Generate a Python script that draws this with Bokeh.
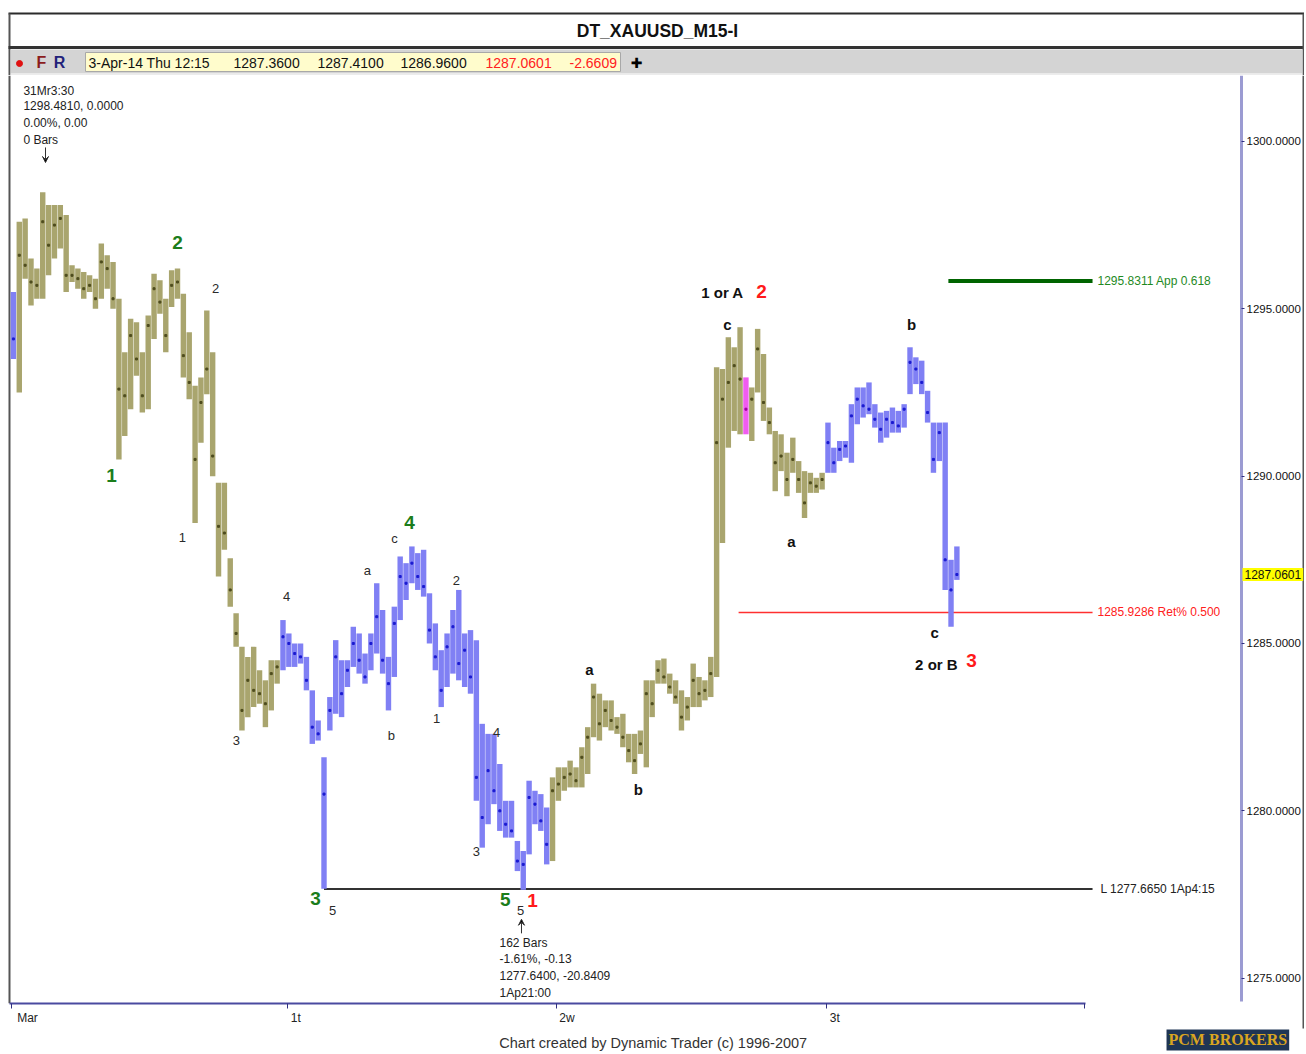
from bokeh.plotting import figure
from bokeh.models import Range1d, FixedTicker, PrintfTickFormatter, Label, Arrow, VeeHead, ColumnDataSource
from bokeh.layouts import column
from bokeh.core.properties import value
from bokeh.embed import file_html
from bokeh.resources import INLINE

FONT = "Liberation Sans"

# ---------------- data (30-minute samples of the M15 chart) ----------------
bar_high = [1295.5, 1297.6, 1297.7, 1296.5, 1296.2, 1298.48, 1298.1, 1298.1, 1298.1, 1297.8,
            1296.3, 1296.2, 1296.1, 1296.0, 1295.9, 1296.95, 1296.6, 1296.4, 1295.3, 1293.7,
            1294.7, 1294.6, 1293.7, 1294.8, 1296.05, 1295.85, 1295.3, 1296.15, 1296.2, 1295.45,
            1294.3, 1292.7, 1292.95, 1294.95, 1293.7, 1289.8, 1289.8, 1287.55, 1285.9, 1284.9,
            1284.6, 1284.9, 1284.2, 1283.9, 1284.5, 1284.5, 1285.7, 1285.3, 1285.0, 1285.0,
            1284.6, 1283.6, 1282.7, 1281.6, 1283.4, 1285.1, 1284.5, 1284.5, 1285.5, 1285.3,
            1284.7, 1285.3, 1286.8, 1286.0, 1284.6, 1286.1, 1287.6, 1287.4, 1287.9, 1287.7,
            1287.8, 1286.5, 1285.6, 1284.8, 1285.3, 1286.0, 1286.6, 1285.3, 1285.4, 1285.1,
            1282.6, 1282.3, 1282.3, 1281.4, 1280.3, 1280.3, 1279.1, 1278.8, 1280.9, 1280.6,
            1280.5, 1280.1, 1281.0, 1281.3, 1281.3, 1281.5, 1281.3, 1281.9, 1282.5, 1283.8,
            1283.5, 1283.3, 1283.3, 1282.8, 1282.9, 1282.3, 1282.3, 1282.4, 1283.9, 1283.9,
            1284.5, 1284.55, 1284.1, 1283.9, 1283.6, 1283.4, 1284.4, 1284.0, 1283.9, 1284.6,
            1293.25, 1293.2, 1294.15, 1293.85, 1294.45, 1292.95, 1292.65, 1294.4, 1293.65, 1292.05,
            1291.35, 1291.25, 1290.7, 1291.15, 1290.45, 1290.15, 1290.1, 1289.95, 1290.1, 1291.6,
            1290.85, 1291.05, 1291.05, 1292.15, 1292.65, 1292.65, 1292.8, 1292.15, 1291.9, 1291.95,
            1292.05, 1291.95, 1292.15, 1293.85, 1293.55, 1293.45, 1292.55, 1291.6, 1291.6, 1291.6,
            1287.5, 1287.9]
bar_low = [1293.5, 1292.5, 1295.9, 1295.1, 1295.3, 1295.3, 1296.0, 1296.5, 1296.8, 1295.5,
           1295.8, 1295.6, 1295.3, 1295.5, 1295.0, 1295.3, 1295.6, 1295.0, 1290.5, 1291.2,
           1292.0, 1293.0, 1291.9, 1292.0, 1294.1, 1294.85, 1293.7, 1295.05, 1295.3, 1292.95,
           1292.3, 1288.6, 1291.0, 1292.45, 1290.0, 1287.0, 1287.8, 1286.1, 1284.9, 1282.4,
           1282.8, 1283.1, 1283.2, 1282.5, 1283.0, 1283.8, 1284.2, 1284.3, 1284.3, 1284.4,
           1283.6, 1282.0, 1282.1, 1277.67, 1282.4, 1282.9, 1282.8, 1283.7, 1284.3, 1284.1,
           1283.8, 1284.2, 1284.7, 1284.1, 1283.0, 1284.0, 1285.7, 1286.3, 1286.8, 1286.6,
           1286.4, 1285.0, 1284.2, 1283.1, 1283.7, 1284.1, 1283.9, 1283.7, 1283.5, 1280.3,
           1278.9, 1279.6, 1280.2, 1279.4, 1279.2, 1279.2, 1278.2, 1277.64, 1278.7, 1279.6,
           1279.4, 1278.4, 1278.5, 1280.3, 1280.6, 1280.7, 1280.7, 1280.7, 1281.1, 1282.2,
           1282.1, 1282.5, 1282.4, 1282.3, 1281.9, 1281.45, 1281.1, 1281.7, 1281.3, 1282.8,
           1283.8, 1283.8, 1283.5, 1283.2, 1282.4, 1282.7, 1283.1, 1283.1, 1283.3, 1283.4,
           1284.0, 1288.0, 1290.85, 1291.35, 1291.25, 1291.25, 1291.05, 1292.5, 1291.65, 1291.25,
           1289.55, 1290.15, 1289.4, 1290.1, 1289.5, 1288.75, 1289.5, 1289.5, 1289.6, 1290.1,
           1290.1, 1290.45, 1290.55, 1290.4, 1291.55, 1291.75, 1291.85, 1291.45, 1291.0, 1291.15,
           1291.3, 1291.3, 1291.45, 1292.45, 1292.75, 1292.45, 1291.6, 1290.1, 1290.45, 1286.6,
           1285.5, 1286.9]
bar_close = [1294.1, 1296.6, 1296.3, 1295.8, 1295.7, 1297.6, 1296.9, 1297.5, 1297.7, 1296.0,
             1296.0, 1295.9, 1295.6, 1295.7, 1295.3, 1296.4, 1296.2, 1295.3, 1292.6, 1292.4,
             1294.2, 1293.5, 1292.4, 1294.5, 1295.6, 1295.2, 1294.2, 1295.7, 1295.8, 1293.6,
             1292.8, 1290.5, 1292.2, 1293.2, 1290.6, 1288.5, 1288.3, 1286.6, 1285.3, 1283.0,
             1283.9, 1283.6, 1283.5, 1283.2, 1284.1, 1284.3, 1285.2, 1285.0, 1284.7, 1284.6,
             1283.9, 1282.5, 1282.3, 1280.5, 1283.0, 1284.6, 1283.5, 1284.2, 1285.0, 1284.5,
             1284.0, 1285.0, 1285.8, 1284.5, 1283.8, 1285.6, 1287.0, 1286.8, 1287.4, 1287.0,
             1286.7, 1285.4, 1284.6, 1283.6, 1284.9, 1285.5, 1284.4, 1284.8, 1284.0, 1281.0,
             1279.8, 1281.2, 1280.6, 1280.0, 1279.6, 1279.4, 1278.5, 1278.4, 1280.4, 1280.2,
             1279.7, 1279.0, 1280.6, 1280.8, 1281.0, 1281.1, 1280.9, 1281.6, 1282.2, 1283.4,
             1282.6, 1283.0, 1282.7, 1282.5, 1282.2, 1281.8, 1281.5, 1282.0, 1283.5, 1283.2,
             1284.2, 1284.0, 1283.7, 1283.4, 1282.8, 1283.1, 1283.9, 1283.5, 1283.6, 1284.1,
             1291.0, 1292.3, 1292.8, 1293.3, 1292.9, 1292.0, 1292.3, 1293.8, 1292.2, 1291.6,
             1290.4, 1290.6, 1289.9, 1290.5, 1289.9, 1289.2, 1289.8, 1289.7, 1289.9, 1291.0,
             1290.4, 1290.8, 1290.9, 1291.8, 1292.3, 1292.1, 1292.0, 1291.7, 1291.4, 1291.7,
             1291.6, 1291.5, 1292.0, 1293.4, 1293.2, 1292.8, 1291.9, 1290.5, 1291.3, 1287.5,
             1286.6, 1287.06]
# bar colouring state: b = blue, o = olive, m = magenta (run lengths)
trend_runs = [("b", 1), ("o", 45), ("b", 46), ("o", 33), ("m", 1), ("o", 13), ("b", 23)]

# levels
low_level = 1277.665
ret_level = 1285.9286
app_level = 1295.8311
last_price = 1287.0601

# axis ticks
price_ticks = [1275, 1280, 1285, 1290, 1295, 1300]
date_tick_pos = [0, 94, 186, 278, 366]
date_tick_lbl = ["Mar", "1t", "2w", "3t", ""]

# wave labels: (text, bar position, price)
waves_green = [("2", 56.5, 1296.98), ("1", 34.0, 1290.02), ("4", 135.7, 1288.62),
               ("3", 103.6, 1277.38), ("5", 168.4, 1277.35)]
waves_red = [("1", 177.7, 1277.32), ("2", 255.8, 1295.52), ("3", 327.5, 1284.49)]
waves_black = [("1 or A", 242.5, 1295.49), ("c", 244.2, 1294.53), ("a", 266.0, 1288.05),
               ("b", 307.0, 1294.53), ("c", 314.9, 1285.33), ("2 or B", 315.5, 1284.37),
               ("a", 197.1, 1284.22), ("b", 213.8, 1280.64)]
waves_small = [("2", 69.5, 1295.61), ("1", 58.2, 1288.17), ("4", 93.7, 1286.41), ("3", 76.6, 1282.10),
               ("a", 121.3, 1287.18), ("b", 129.5, 1282.25), ("c", 130.6, 1288.14), ("1", 144.9, 1282.76),
               ("2", 151.7, 1286.88), ("4", 165.4, 1282.34), ("3", 158.5, 1278.79), ("5", 109.4, 1277.02),
               ("5", 173.6, 1277.02)]

# ---------------- derived ----------------
n = len(bar_high)
xs = [2 * k + 0.5 for k in range(n)]
trend = []
for c, cnt in trend_runs:
    trend += [c] * cnt
fill_map = {"b": "#8080f4", "o": "#a9a56e", "m": "#f05cf0"}
dot_map = {"b": "#1a1ad0", "o": "#4e4c1e", "m": "#a000a0"}
src = ColumnDataSource(dict(x=xs, hi=bar_high, lo=bar_low, cl=bar_close,
                            fill=[fill_map[t] for t in trend], dot=[dot_map[t] for t in trend]))

W = 1304
HDR_H = 75
MAIN_H = 977
# ---------------- header ----------------
hdr = figure(width=W, height=HDR_H, x_range=Range1d(0, W), y_range=Range1d(HDR_H, 0),
             output_backend="svg", toolbar_location=None, min_border=0,
             x_axis_location=None, y_axis_location=None)
hdr.grid.visible = False
hdr.outline_line_color = None
hdr.segment(x0=[8, 9, 8, 1303], y0=[13, 13, 47, 13], x1=[W, 9, W, 1303], y1=[13, 75, 47, 75],
            line_color=["#2b2b2b", "#555555", "#333333", "#555555"], line_width=[2, 2, 3, 2])
hdr.quad(left=[10, 10], right=[1302, 1302], top=[49, 73], bottom=[73, 75],
         fill_color=["#d4d4d4", "#ececec"], line_color=None)
hdr.text(x=[657], y=[30], text=["DT_XAUUSD_M15-I"], text_font=value(FONT), text_font_size="17.5px",
         text_font_style="bold", text_align="center", text_baseline="middle", text_color="#111111")
hdr.scatter(x=[19], y=[63], size=6, color="#e01010")
hdr.text(x=[41, 59], y=[62, 62], text=["F", "R"], text_font=value(FONT), text_font_size="16px",
         text_font_style="bold", text_align="center", text_baseline="middle",
         text_color=["#8b1c1c", "#22227a"])
hdr.quad(left=[85], right=[620], top=[52], bottom=[71], fill_color="#fffccc", line_color="#a8a8a8")
hdr.text(x=[88, 233, 317, 400, 485, 569], y=[62] * 6,
         text=["3-Apr-14 Thu 12:15", "1287.3600", "1287.4100", "1286.9600", "1287.0601", "-2.6609"],
         text_font=value(FONT), text_font_size="14px", text_align="left", text_baseline="middle",
         text_color=["#111111"] * 4 + ["#ff2020", "#ff2020"])
hdr.text(x=[636], y=[62], text=["\u271a"], text_font=value("DejaVu Sans"), text_font_size="14px",
         text_align="center", text_baseline="middle", text_color="#000000")

# ---------------- main chart ----------------
# the frame fills the whole canvas; the axes are fixed inside it
p = figure(width=W, height=MAIN_H, x_range=Range1d(-3.91, 441.14), y_range=Range1d(1272.78, 1301.97),
           y_axis_location="right", output_backend="svg", toolbar_location=None, min_border=0)
p.grid.visible = False
p.outline_line_color = None
p.background_fill_color = "white"

# borders
p.segment(x0=[-0.84, 440.8], y0=[1274.25, 1273.5], x1=[-0.84, 440.8], y1=[1301.97, 1301.97],
          line_color="#555555", line_width=2)

# level lines
end_x = 368.8
p.segment(x0=[xs[bar_low.index(min(bar_low[:60]))]], y0=[low_level], x1=[end_x], y1=[low_level],
          line_color="#333333", line_width=2)
p.segment(x0=[248], y0=[ret_level], x1=[end_x], y1=[ret_level], line_color="#ff3030", line_width=1.5)
p.segment(x0=[319.6], y0=[app_level], x1=[end_x], y1=[app_level], line_color="#006400", line_width=4)
p.text(x=[371.5, 370.5, 370.5], y=[low_level, ret_level, app_level],
       text=["L %.4f 1Ap4:15" % low_level, "%.4f Ret%% 0.500" % ret_level, "%.4f App 0.618" % app_level],
       text_font=value(FONT), text_font_size="12px", text_align="left", text_baseline="middle",
       text_color=["#222222", "#ff2020", "#1f8a1f"])

# price bars
p.vbar(x="x", width=1.85, top="hi", bottom="lo", source=src, fill_color="fill", line_color=None)
p.scatter(x="x", y="cl", source=src, marker="square", size=2, color="dot")

# wave labels
def put(lbls, size, style, color):
    p.text(x=[l[1] for l in lbls], y=[l[2] for l in lbls], text=[l[0] for l in lbls],
           text_font=value(FONT), text_font_size=size, text_font_style=style,
           text_align="center", text_baseline="middle", text_color=color)

put(waves_green, "19px", "bold", "#1b7d1b")
put(waves_red, "19px", "bold", "#ff1a1a")
put(waves_black, "15px", "bold", "#111111")
put(waves_small, "13px", "normal", "#2a2a2a")

# info annotations
p.text(x=[3.9] * 4, y=[1301.52, 1301.05, 1300.54, 1300.03],
       text=["31Mr3:30", "1298.4810, 0.0000", "0.00%, 0.00", "0 Bars"],
       text_font=value(FONT), text_font_size="12px", text_align="left", text_baseline="middle",
       text_color="#222222")
p.text(x=[166.4] * 4, y=[1276.04, 1275.56, 1275.08, 1274.57],
       text=["162 Bars", "-1.61%, -0.13", "1277.6400, -20.8409", "1Ap21:00"],
       text_font=value(FONT), text_font_size="12px", text_align="left", text_baseline="middle",
       text_color="#222222")
p.add_layout(Arrow(end=VeeHead(size=6, line_color="#333333", line_width=1), x_start=11.45, y_start=1299.82,
                   x_end=11.45, y_end=1299.37, line_color="#333333", line_width=1))
p.add_layout(Arrow(end=VeeHead(size=6, line_color="#333333", line_width=1), x_start=173.9, y_start=1276.34,
                   x_end=173.9, y_end=1276.76, line_color="#333333", line_width=1))

# axes
ya = p.yaxis[0]
ya.fixed_location = 419.64
ya.bounds = (1274.3, 1301.97)
ya.ticker = FixedTicker(ticks=price_ticks)
ya.formatter = PrintfTickFormatter(format="%.4f")
ya.axis_line_color = "#9b9bd2"
ya.axis_line_width = 3
ya.major_tick_in = 0
ya.major_tick_out = 3
ya.major_tick_line_color = "#303080"
ya.minor_tick_line_color = None
ya.major_label_standoff = 2
ya.major_label_text_font = FONT
ya.major_label_text_font_size = "11.5px"
ya.major_label_text_color = "#111111"

# date labels sit just right of their tick (padded with no-break spaces, since labels are centred)
NBSP = "\u00a0"
pad = [5, 5, 6, 5, 0]
xa = p.xaxis[0]
xa.fixed_location = 1274.25
xa.ticker = FixedTicker(ticks=date_tick_pos)
xa.major_label_overrides = {t: NBSP * k + l for t, l, k in zip(date_tick_pos, date_tick_lbl, pad)}
xa.bounds = (-1.0, date_tick_pos[-1] + 0.4)
xa.axis_line_color = "#4a4aa0"
xa.axis_line_width = 2
xa.major_tick_in = 0
xa.major_tick_out = 5
xa.major_tick_line_color = "#303080"
xa.minor_tick_line_color = None
xa.major_label_standoff = 3
xa.major_label_text_font = FONT
xa.major_label_text_font_size = "12px"
xa.major_label_text_color = "#222222"

# current price flag on the axis
p.add_layout(Label(x=419.97, y=last_price, text="%.4f" % last_price, text_font=FONT, text_font_size="12px",
                   text_align="left", text_baseline="middle", background_fill_color="#ffff00",
                   text_color="#111111", padding=2))
# footer
p.add_layout(Label(x=219.6, y=1273.05, text="Chart created by Dynamic Trader  (c) 1996-2007", text_font=FONT,
                   text_font_size="14.5px", text_align="center", text_baseline="middle", text_color="#333333"))
p.add_layout(Label(x=394.05, y=1273.47, text="PCM BROKERS", text_font="Liberation Serif", text_font_size="16px",
                   text_font_style="bold", text_align="left", text_baseline="top", text_color="#d9a520",
                   background_fill_color="#1f3554", padding=2))

layout = column(hdr, p, spacing=0)
open("out.html", "w").write(file_html(layout, INLINE))
